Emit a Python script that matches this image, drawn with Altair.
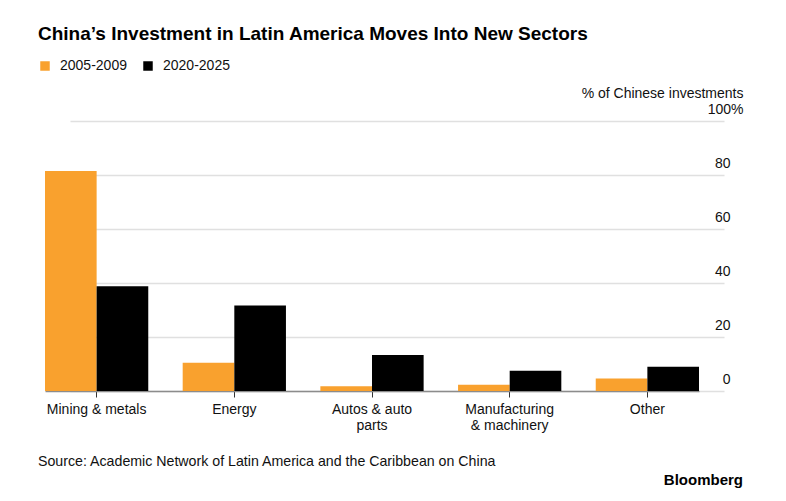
import altair as alt
import pandas as pd

CATEGORIES = ["Mining & metals", "Energy", "Autos & auto parts",
              "Manufacturing & machinery", "Other"]
PERIODS = ["2005-2009", "2020-2025"]
SHARE_2005_2009 = [81.5, 10.5, 1.8, 2.3, 4.6]
SHARE_2020_2025 = [38.8, 31.7, 13.3, 7.5, 9.0]
Y_TICKS = [0, 20, 40, 60, 80, 100]
COLORS = ["#F9A12E", "#000000"]

TITLE = "China\u2019s Investment in Latin America Moves Into New Sectors"
SOURCE = "Source: Academic Network of Latin America and the Caribbean on China"
LOGO = "Bloomberg"
Y_TITLE = "% of Chinese investments"

rows = []
for i, c in enumerate(CATEGORIES):
    rows.append({"sector": c, "period": PERIODS[0], "share": SHARE_2005_2009[i]})
    rows.append({"sector": c, "period": PERIODS[1], "share": SHARE_2020_2025[i]})
df = pd.DataFrame(rows)

FONT = "Liberation Sans"
W, H = 693, 270

label_expr = ("datum.value == 'Autos & auto parts' ? ['Autos & auto', 'parts'] : "
              "datum.value == 'Manufacturing & machinery' ? ['Manufacturing', '& machinery'] : "
              "datum.label")

bars = alt.Chart(df).mark_bar().encode(
    x=alt.X("sector:N", sort=CATEGORIES,
            scale=alt.Scale(range=[7, 661], paddingInner=0.25, paddingOuter=0),
            axis=alt.Axis(title=None, labelAngle=0, labelExpr=label_expr,
                          labelFont=FONT, labelFontSize=14, labelColor="#111",
                          labelLineHeight=16, labelPadding=5, tickSize=6,
                          tickColor="#333", tickWidth=1, domainColor="#8c8c8c",
                          domainWidth=1.5, grid=False, labelBaseline="top")),
    xOffset=alt.XOffset("period:N", sort=PERIODS),
    y=alt.Y("share:Q",
            scale=alt.Scale(domain=[0, 100]),
            axis=alt.Axis(orient="right", values=Y_TICKS, title=Y_TITLE,
                          titleAngle=0, titleAlign="right", titleBaseline="alphabetic",
                          titleX=12, titleY=-24, titleFont=FONT, titleFontSize=14,
                          titleFontWeight="normal", titleColor="#111",
                          labelExpr="datum.value == 100 ? '100%' : datum.label",
                          labelAlign="right", labelBaseline="alphabetic",
                          labelPadding={"condition": {"test": "datum.value == 100", "value": 12}, "value": -1},
                          labelOffset=-8, labelFont=FONT, labelFontSize=14,
                          labelColor="#111", tickSize=0, domain=False,
                          grid=True, gridColor="#e0e0e0", gridWidth=1.5)),
    color=alt.Color("period:N", sort=PERIODS,
                    scale=alt.Scale(domain=PERIODS, range=COLORS),
                    legend=alt.Legend(title=None, orient="none", legendX=0, legendY=-62,
                                      direction="horizontal", symbolType="square",
                                      symbolSize=90, symbolStrokeWidth=0,
                                      labelFont=FONT, labelFontSize=14, labelColor="#111",
                                      labelOffset=8, columnPadding=14)),
)

title_txt = alt.Chart(pd.DataFrame({"t": [TITLE]})).mark_text(
    align="left", baseline="alphabetic", font=FONT, fontSize=19, fontWeight="bold",
    color="#000").encode(text="t:N", x=alt.value(0), y=alt.value(-81))

source_txt = alt.Chart(pd.DataFrame({"t": [SOURCE]})).mark_text(
    align="left", baseline="alphabetic", font=FONT, fontSize=14.2,
    color="#111").encode(text="t:N", x=alt.value(0), y=alt.value(345))

logo_txt = alt.Chart(pd.DataFrame({"t": [LOGO]})).mark_text(
    align="right", baseline="alphabetic", font=FONT, fontSize=15, fontWeight="bold",
    color="#000").encode(text="t:N", x=alt.value(705), y=alt.value(364))

chart = alt.layer(bars, title_txt, source_txt, logo_txt).properties(
    width=W, height=H,
    autosize=alt.AutoSizeParams(type="none"),
    padding={"left": 30, "top": 113, "right": 40, "bottom": 100},
).configure(background="white").configure_view(stroke=None)

chart.save("out.html", embed_options={"renderer": "svg", "actions": False})
